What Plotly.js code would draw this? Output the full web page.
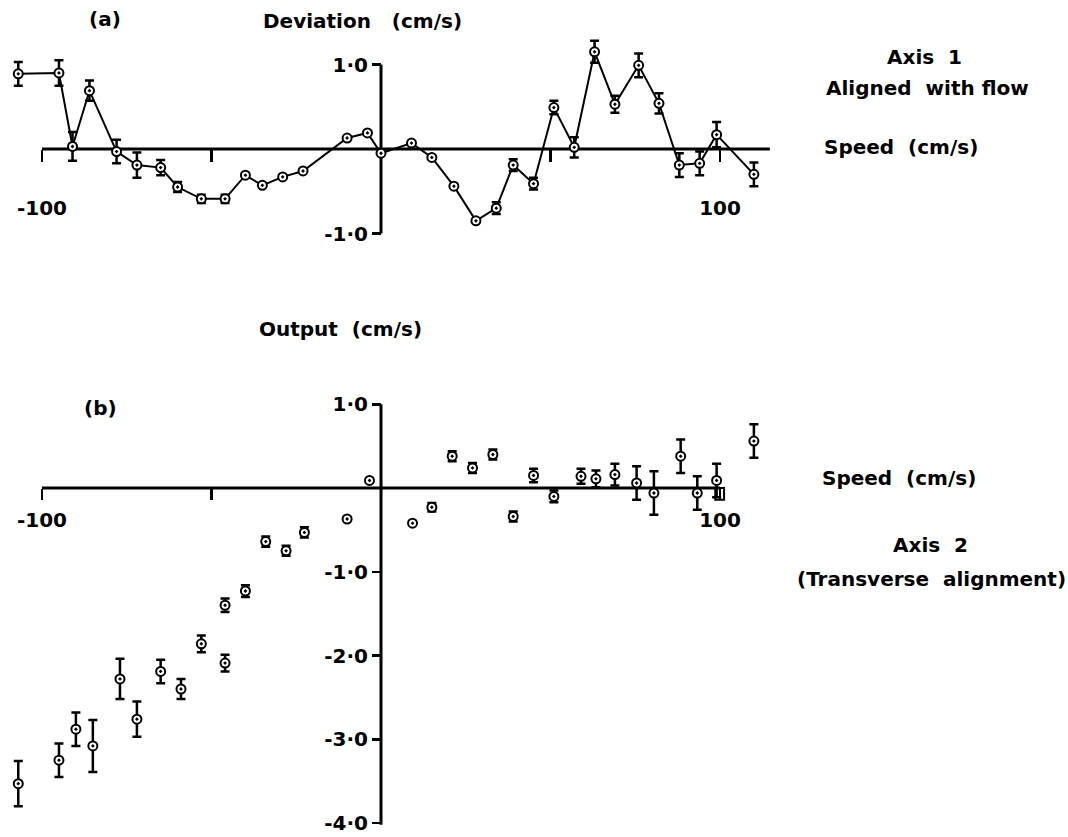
<!DOCTYPE html>
<html>
<head>
<meta charset="utf-8">
<script src="https://cdn.plot.ly/plotly-3.0.1.min.js"></script>
<style>html,body{margin:0;padding:0;background:#fff;}</style>
</head>
<body>
<div id="chart" style="width:1068px;height:837px;"></div>
<script>
// Panel (a): Axis 1, aligned with flow — deviation vs speed
const speedA = [-107, -95, -91, -86, -78, -72, -65, -60, -53, -46, -40, -35, -29, -23, -10, -4, 0, 9, 15, 21.5, 28, 34, 39, 45, 51, 57, 63, 69, 76, 82, 88, 94, 99, 110];
const deviationA = [0.89, 0.90, 0.03, 0.69, -0.03, -0.19, -0.22, -0.45, -0.59, -0.59, -0.31, -0.43, -0.33, -0.26, 0.13, 0.19, -0.05, 0.07, -0.10, -0.44, -0.85, -0.70, -0.19, -0.41, 0.49, 0.02, 1.15, 0.53, 0.99, 0.54, -0.19, -0.17, 0.17, -0.30];
const errA = [0.14, 0.15, 0.17, 0.12, 0.14, 0.15, 0.09, 0.06, 0.05, 0.05, NaN, NaN, NaN, NaN, NaN, NaN, NaN, NaN, NaN, NaN, NaN, 0.07, 0.07, 0.07, 0.08, 0.12, 0.13, 0.10, 0.14, 0.12, 0.14, 0.14, 0.15, 0.14];

// Panel (b): Axis 2, transverse alignment — output vs speed
const speedB = [-107, -95, -90, -85, -77, -72, -65, -59, -53, -46, -46, -40, -34, -28, -22.6, -10, -3.4, 9.3, 15, 21, 27, 33, 39, 45, 51, 59, 63.4, 69, 75.4, 80.5, 88.4, 93.3, 99, 110];
const outputB = [-3.53, -3.25, -2.88, -3.08, -2.28, -2.76, -2.19, -2.40, -1.86, -2.09, -1.40, -1.23, -0.64, -0.75, -0.53, -0.37, 0.09, -0.42, -0.23, 0.38, 0.24, 0.40, -0.34, 0.15, -0.10, 0.14, 0.11, 0.16, 0.06, -0.06, 0.38, -0.06, 0.09, 0.56];
const errB = [0.27, 0.20, 0.20, 0.31, 0.24, 0.21, 0.14, 0.12, 0.10, 0.10, 0.08, 0.07, 0.06, 0.06, 0.06, NaN, NaN, NaN, 0.05, 0.06, 0.06, 0.06, 0.06, 0.08, 0.07, 0.09, 0.10, 0.13, 0.20, 0.26, 0.20, 0.20, 0.20, 0.20];

// Tick labels
const xTickValsA = [-100, -50, 50, 100];
const xTickTextA = ['-100', '', '', '100'];
const yTickValsA = [-1, 1];
const yTickTextA = ['-1\u00b70', '1\u00b70'];
const xTickValsB = [-100, -50, 100];
const xTickTextB = ['-100', '', '100'];
const yTickValsB = [-4, -3, -2, -1, 1];
const yTickTextB = ['-4\u00b70', '-3\u00b70', '-2\u00b70', '-1\u00b70', '1\u00b70'];

const W = 1068, H = 837;
const FONT = {family: 'DejaVu Sans', size: 20, color: '#000', weight: 700};
const px = v => v / W;
const py = v => 1 - v / H;

const markerStyle = {symbol: 'circle-dot', size: 9, color: '#fff', line: {color: '#000', width: 2}};
const errStyle = (arr) => ({type: 'data', array: arr, visible: true, color: '#000', thickness: 2.5, width: 4.5});

const traces = [
  {x: speedA, y: deviationA, xaxis: 'x', yaxis: 'y', mode: 'lines+markers', type: 'scatter',
   line: {color: '#000', width: 2}, marker: markerStyle, error_y: errStyle(errA), hoverinfo: 'x+y'},
  {x: speedB, y: outputB, xaxis: 'x2', yaxis: 'y2', mode: 'markers', type: 'scatter',
   marker: markerStyle, error_y: errStyle(errB), hoverinfo: 'x+y'}
];

const axBase = {showgrid: false, zeroline: false, showline: false, ticks: 'outside', tickcolor: '#000',
  tickwidth: 2.5, tickfont: FONT, fixedrange: true, tickmode: 'array', ticklabeloverflow: 'allow'};

function ann(text, x, y, xanchor) {
  return {text: text, xref: 'paper', yref: 'paper', x: px(x), y: py(y), xanchor: xanchor || 'center',
    yanchor: 'middle', showarrow: false, font: FONT};
}

const SB = 83.75; // px per unit, panel (b) y
const layout = {
  width: W, height: H, margin: {l: 0, r: 0, t: 0, b: 0}, paper_bgcolor: '#fff', plot_bgcolor: 'rgba(0,0,0,0)',
  showlegend: false,
  xaxis: Object.assign({}, axBase, {domain: [0, px(800)], range: [-381 / 3.39, (800 - 381) / 3.39], anchor: 'free',
    position: py(149), tickvals: xTickValsA, ticktext: xTickTextA, ticklen: 12, ticklabelstandoff: 29}),
  yaxis: Object.assign({}, axBase, {domain: [py(250), py(30)], range: [(149 - 250) / 84.5, (149 - 30) / 84.5], anchor: 'free',
    position: px(381), tickvals: yTickValsA, ticktext: yTickTextA, ticklen: 9}),
  xaxis2: Object.assign({}, axBase, {domain: [0, px(800)], range: [-381 / 3.39, (800 - 381) / 3.39], anchor: 'free',
    position: py(488), tickvals: xTickValsB, ticktext: xTickTextB, ticklen: 11, ticklabelstandoff: 3}),
  yaxis2: Object.assign({}, axBase, {domain: [py(836), py(380)], range: [(488 - 836) / SB, (488 - 380) / SB], anchor: 'free',
    position: px(381), tickvals: yTickValsB, ticktext: yTickTextB, ticklen: 9}),
  shapes: [
    {type: 'line', xref: 'x', yref: 'y', x0: -100, x1: 114.7, y0: 0, y1: 0, line: {color: '#000', width: 3}, layer: 'below'},
    {type: 'line', xref: 'x', yref: 'y', x0: 0, x1: 0, y0: -1, y1: 1, line: {color: '#000', width: 3}, layer: 'below'},
    {type: 'line', xref: 'x2', yref: 'y2', x0: -100, x1: 100, y0: 0, y1: 0, line: {color: '#000', width: 3}, layer: 'below'},
    {type: 'line', xref: 'x2', yref: 'y2', x0: 0, x1: 0, y0: -4.02, y1: 1, line: {color: '#000', width: 3}, layer: 'below'},
    {type: 'rect', xref: 'x2', yref: 'y2', x0: 98.6, x1: 101.2, y0: 0, y1: -0.14, line: {color: '#000', width: 2}, layer: 'below'}
  ],
  annotations: [
    ann('(a)', 105, 19),
    ann('Deviation\u00a0 \u00a0(cm/s)', 362, 21),
    ann('Axis\u00a0 1', 924, 57),
    ann('Aligned\u00a0 with flow', 927, 88),
    ann('Speed\u00a0 (cm/s)', 822, 147, 'left'),
    ann('Output\u00a0 (cm/s)', 340, 329),
    ann('(b)', 100, 408),
    ann('Speed\u00a0 (cm/s)', 820, 478, 'left'),
    ann('Axis\u00a0 2', 930, 545),
    ann('(Transverse\u00a0 alignment)', 931, 579)
  ]
};

Plotly.newPlot('chart', traces, layout, {displayModeBar: false, staticPlot: true});
</script>
</body>
</html>
